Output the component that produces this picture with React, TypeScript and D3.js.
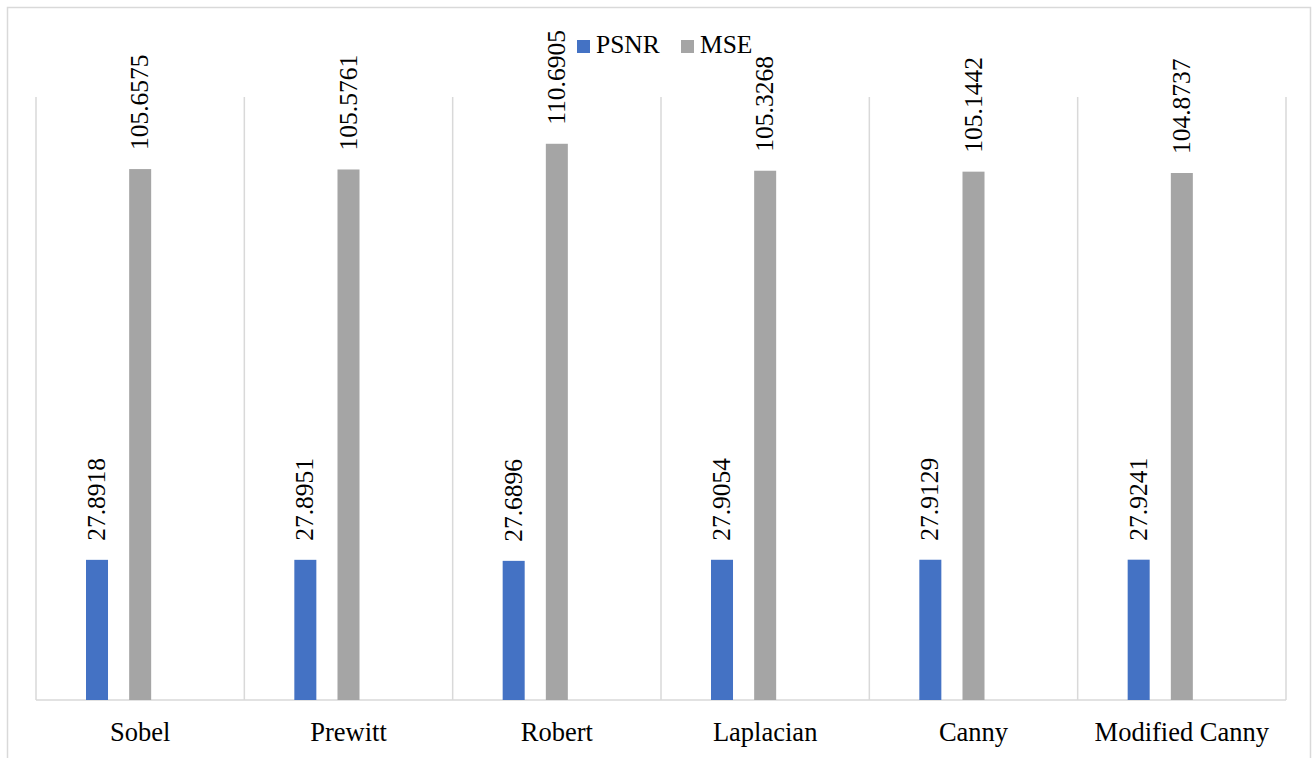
import React from 'react';
import * as d3 from 'd3';

const categories = ['Sobel', 'Prewitt', 'Robert', 'Laplacian', 'Canny', 'Modified Canny'];
const psnr = [27.8918, 27.8951, 27.6896, 27.9054, 27.9129, 27.9241];
const mse = [105.6575, 105.5761, 110.6905, 105.3268, 105.1442, 104.8737];
const seriesNames = ['PSNR', 'MSE'];
const seriesColors = ['#4472C4', '#A5A5A5'];

const width = 1315;
const height = 758;
const margin = { top: 97, right: 29, bottom: 58, left: 36 };
const font = "'Liberation Serif', 'Times New Roman', serif";

function App() {
  const x0 = d3.scaleBand<string>()
    .domain(categories)
    .range([margin.left, width - margin.right]);

  // Excel-style grouping leaves room for a third (empty) slot
  const x1 = d3.scaleBand<string>()
    .domain(['PSNR', 'MSE', '_'])
    .range([x0.bandwidth() * 0.24, x0.bandwidth() * 0.76])
    .paddingInner(0.49);

  const y = d3.scaleLinear()
    .domain([0, 120])
    .range([height - margin.bottom, margin.top]);

  const series = [psnr, mse];
  const baseY = y(0);
  const txt = { fontFamily: font, fill: '#000' };

  return (
    <svg width={width} height={height} style={{ position: 'absolute', left: 0, top: 0 }}>
      <rect x={0} y={0} width={width} height={height} fill="#fff" />
      <rect x={7.5} y={7.5} width={1303} height={780} fill="none" stroke="#d9d9d9" strokeWidth={1.5} />

      {/* vertical separators */}
      {categories.concat(['end']).map((c, i) => {
        const gx = i < categories.length ? (x0(c) as number) : width - margin.right;
        return (
          <line key={'g' + i} x1={gx} x2={gx} y1={y(120)} y2={baseY} stroke="#d9d9d9" strokeWidth={1.5} />
        );
      })}
      <line x1={margin.left} x2={width - margin.right} y1={baseY} y2={baseY} stroke="#d9d9d9" strokeWidth={1.5} />

      {categories.map((c, i) => {
        const gx = x0(c) as number;
        return (
          <g key={c}>
            {series.map((vals, s) => {
              const bx = gx + (x1(seriesNames[s]) as number);
              const by = y(vals[i]);
              const cx = bx + x1.bandwidth() / 2;
              return (
                <g key={s}>
                  <rect x={bx} y={by} width={x1.bandwidth()} height={baseY - by} fill={seriesColors[s]} />
                  <text
                    transform={`translate(${cx + 8},${by - 19}) rotate(-90)`}
                    style={{ ...txt, fontSize: '25.5px' }}
                  >
                    {vals[i].toFixed(4)}
                  </text>
                </g>
              );
            })}
            <text x={gx + x0.bandwidth() / 2} y={741} textAnchor="middle" style={{ ...txt, fontSize: '26.5px' }}>
              {c}
            </text>
          </g>
        );
      })}

      {/* legend */}
      <g>
        <rect x={577} y={40} width={13} height={13} fill={seriesColors[0]} />
        <text x={596} y={53} style={{ ...txt, fontSize: '25.5px' }}>{seriesNames[0]}</text>
        <rect x={681} y={40} width={13} height={13} fill={seriesColors[1]} />
        <text x={700} y={53} style={{ ...txt, fontSize: '25.5px' }}>{seriesNames[1]}</text>
      </g>
    </svg>
  );
}

export default App;
